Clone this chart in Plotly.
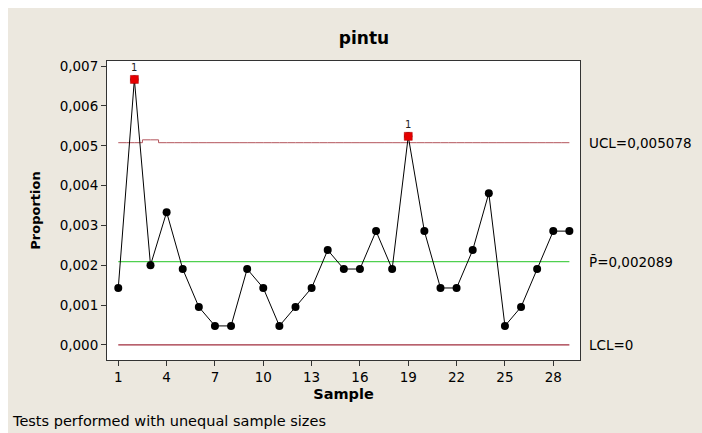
import plotly.graph_objects as go

samples = list(range(1, 30))
proportion = [0.001429, 0.006667, 0.002000, 0.003333, 0.001905, 0.000952, 0.000476,
              0.000476, 0.001905, 0.001429, 0.000476, 0.000952, 0.001429, 0.002381,
              0.001905, 0.001905, 0.002857, 0.001905, 0.005238, 0.002857, 0.001429,
              0.001429, 0.002381, 0.003810, 0.000476, 0.000952, 0.001905, 0.002857,
              0.002857]
ucl = [0.005078, 0.005078, 0.005150] + [0.005078] * 26
center_line = 0.002089
lcl = 0.0
out_of_control = [2, 19]
y_ticks = [0.000, 0.001, 0.002, 0.003, 0.004, 0.005, 0.006, 0.007]
x_ticks = [1, 4, 7, 10, 13, 16, 19, 22, 25, 28]

FONT = "DejaVu Sans"
BG = "#ece8df"
W, H = 694, 425
L, R, T, B = 99, 122, 53, 73
PW, PH = W - L - R, H - T - B

fig = go.Figure()

fig.add_trace(go.Scatter(x=samples, y=ucl, mode="lines", line=dict(color="#b3545c", width=1, shape="hvh"),
                         hoverinfo="skip", showlegend=False))
fig.add_trace(go.Scatter(x=[samples[0], samples[-1]], y=[center_line, center_line], mode="lines",
                         line=dict(color="#4fd04f", width=1.3), showlegend=False))
fig.add_trace(go.Scatter(x=[samples[0], samples[-1]], y=[lcl, lcl], mode="lines",
                         line=dict(color="#a02c3c", width=1.2), showlegend=False))
fig.add_trace(go.Scatter(x=samples, y=proportion, mode="lines+markers",
                         line=dict(color="black", width=1),
                         marker=dict(color="black", size=8, symbol="circle"),
                         showlegend=False))
ox = [s for s in samples if s in out_of_control]
oy = [proportion[s - 1] for s in ox]
fig.add_trace(go.Scatter(x=ox, y=oy, mode="markers",
                         marker=dict(color="#e60000", size=8, symbol="square",
                                     line=dict(color="#b00000", width=0.5)),
                         showlegend=False))
for x, y in zip(ox, oy):
    fig.add_annotation(x=x, y=y, text="1", showarrow=False, yshift=12,
                       font=dict(family=FONT, size=10, color="#222"))

for yv, txt in [(ucl[0], "UCL=0,005078"), (center_line, "P\u0304=0,002089"), (lcl, "LCL=0")]:
    fig.add_annotation(xref="paper", x=1.0, xanchor="left", xshift=7, y=yv, yref="y",
                       text=txt, showarrow=False, font=dict(family=FONT, size=13.5, color="black"))

fig.add_annotation(xref="paper", yref="paper", x=(2 - L) / PW, xanchor="left", y=-61 / PH, yanchor="middle",
                   text="Tests performed with unequal sample sizes", showarrow=False,
                   font=dict(family=FONT, size=14.5, color="black"))

fig.update_layout(
    width=W, height=H,
    margin=dict(l=L, r=R, t=T, b=B),
    paper_bgcolor=BG, plot_bgcolor="white",
    separators=",.",
    font=dict(family=FONT, size=12, color="black"),
    title=dict(text="<b>pintu</b>", x=356 / W, xanchor="center", y=1 - 30 / H, yanchor="middle",
               font=dict(family=FONT, size=17, color="black")),
    xaxis=dict(range=[0.30, 29.66], tickmode="array", tickvals=x_ticks, ticks="outside", ticklen=5,
               tickcolor="#333", showgrid=False, zeroline=False, showline=True, linecolor="#333",
               linewidth=1, mirror=True, tickfont=dict(family=FONT, size=13.5),
               title=dict(text="<b>Sample</b>", font=dict(family=FONT, size=14.5), standoff=4)),
    yaxis=dict(range=[-0.00038, 0.00713], tickmode="array", tickvals=y_ticks, tickformat=".3f",
               ticks="outside", ticklen=5, tickcolor="#333", showgrid=False, zeroline=False,
               showline=True, linecolor="#333", linewidth=1, mirror=True,
               tickfont=dict(family=FONT, size=13.5),
               title=dict(text="<b>Proportion</b>", font=dict(family=FONT, size=13), standoff=16)),
)

fig.write_html("out.html",
               post_script="document.body.style.margin='8px 0 0 8px';document.body.style.overflow='hidden';")
